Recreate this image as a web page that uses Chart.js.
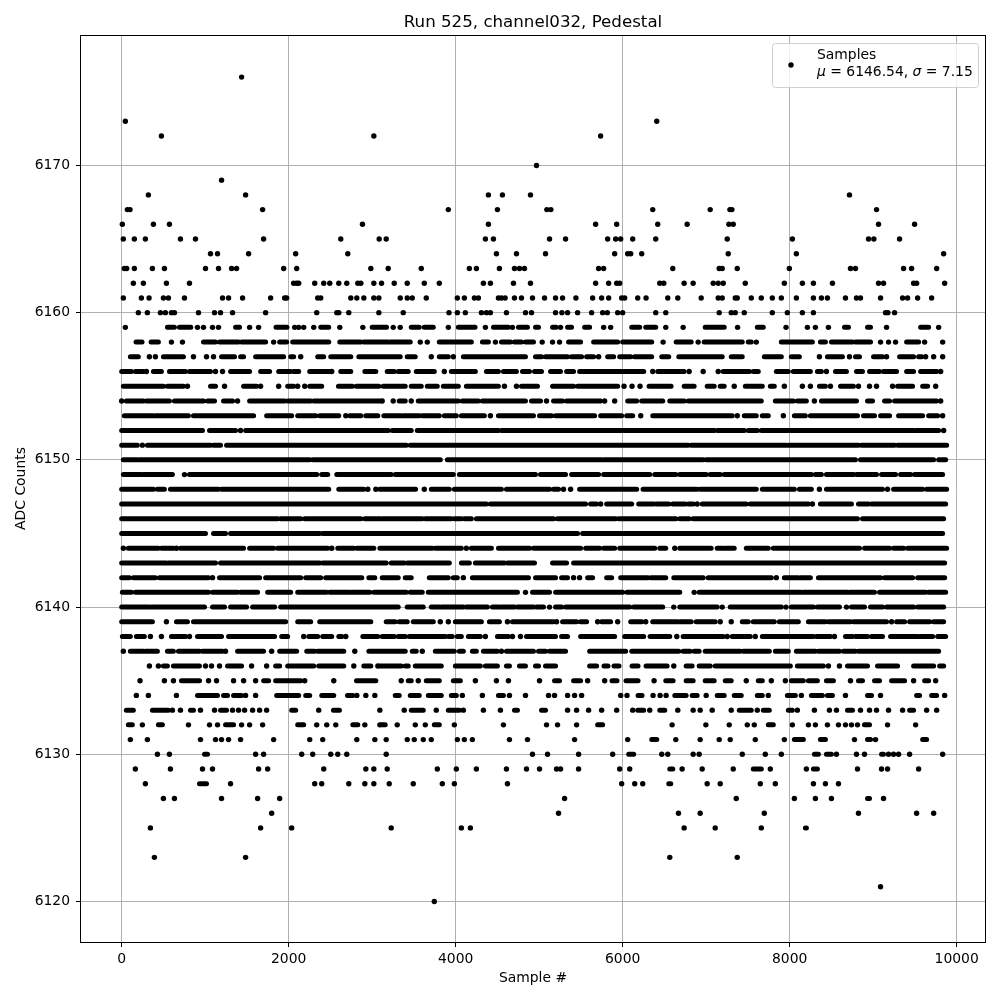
<!DOCTYPE html>
<html><head><meta charset="utf-8"><style>html,body{margin:0;padding:0;background:#fff}canvas{display:block}</style>
<script src="https://cdn.jsdelivr.net/npm/chart.js@4"></script></head><body>
<canvas id="c" width="1000" height="1000"></canvas>
<script>
// Each list: ADC level -> sample numbers. A number is one isolated dot,
// a [from,to] pair is a stretch of samples that merge into a solid band in the picture.
const a6176=[1436];
const a6173=[44,6408];
const a6172=[476,3020,5736];
const a6170=[4968];
const a6169=[1196];
const a6168=[320,1484,4392,4560,4896,8716];
const a6167=[68,100,1688,3912,4500,5092,5140,6360,7048,7284,7308,9040];
const a6166=[8,380,572,2884,4392,5676,5928,6420,6772,7272,7324,9064,9496];
const a6165=[20,152,284,704,884,1700,2624,3084,3168,4356,4452,5124,5316,5820,5916,5976,6120,6396,7252,8032,8944,9008,9316];
const a6164=[1064,1148,1520,2084,2708,4488,4728,5076,5904,6060,6096,6228,7264,8080,9844];
const a6163=[32,60,152,368,512,1004,1160,1316,1376,1940,2096,2984,3192,3588,4164,4248,4524,4704,4764,4824,5712,5772,6600,7156,7192,7372,7996,8728,8788,9364,9460,9760];
const a6162=[140,260,536,812,2060,2096,2120,2312,2420,2492,2600,2696,2828,2864,3020,3112,3264,3420,3624,3804,4332,4416,4692,4896,5676,5832,5928,5964,6444,6492,6736,6844,7084,7144,7204,7468,7936,8152,8284,8512,9064,9124,9484,9520,9856];
const a6161=[20,236,328,500,560,752,1208,1280,1448,1784,1952,1976,2348,2384,2744,2816,2900,3020,3080,3336,3420,3480,3648,4020,4104,4224,4272,4512,4548,4592,4704,4788,4920,5064,5196,5280,5440,5640,5748,5832,5988,6024,6180,6280,6540,6660,6940,7144,7192,7348,7372,7540,7660,7792,7900,8080,8284,8380,8452,8668,8800,8848,9088,9352,9412,9532,9700];
const a6160=[200,308,464,524,596,632,920,1112,1184,1328,1724,2336,2576,2600,2720,3080,3372,3920,4020,4116,4308,4368,4416,4608,4836,4908,5196,5272,5340,5460,5628,5760,5816,5940,6000,6396,6516,7156,7300,7348,7456,7792,7972,8152,8284,9148,9176,9256];
const a6159=[44,[548,632],[692,828],908,980,1088,1160,[1364,1412],1532,1640,[1848,1980],2072,2120,2180,2300,[2384,2480],2612,2888,[3000,3172],3252,3336,[3468,3564],[3624,3732],3912,[4032,4232],4356,[4452,4632],4680,[4752,4860],[4956,4992],[5160,5204],5256,[5340,5388],[5544,5604],5772,5856,[6108,6204],[6276,6396],6516,6724,[6988,7216],7376,[7612,7684],7956,8212,8308,8464,[8656,8704],[8932,8968],9160,[9568,9664],9784];
const a6158=[[172,244],[352,440],596,728,[980,1124],[1172,1400],[1436,1724],1820,[1892,1976],[2048,2480],[2612,2864],[2900,3192],[3216,3456],3576,3660,[3804,4188],[4320,4392],4476,[4548,4656],[4704,4788],[4836,4932],5036,5160,5244,[5352,5496],[5652,5940],[6000,6348],6484,[6640,6820],6904,[6976,7432],[7504,7540],7600,[7900,8272],[8368,8428],[8500,8752],[8788,8968],9088,9184,9268,[9400,9544],9616,9832];
const a6157=[[104,200],332,404,[500,740],860,1016,1100,[1196,1352],[1424,1460],[1604,1940],[2024,2060],2144,[2348,2420],[2504,2744],[2840,3336],[3420,3516],3708,[3804,3912],3972,[4092,4836],[4956,5028],[5076,5340],[5388,5508],[5568,5652],5712,[5820,5892],[5964,6096],[6144,6348],[6468,6552],[6672,7192],[7300,7432],[7696,7900],[8020,8116],8356,[8452,8632],8716,[8788,8836],[9004,9112],9160,[9316,9484],[9544,9580],9628,9724,9832];
const a6156=[[0,116],[164,260],296,[380,476],[572,764],[812,1064],1124,1208,[1304,1532],[1664,1772],[1880,2024],[2060,2120],[2252,2492],2516,[2624,2744],[2912,3044],[3180,3264],[3312,3432],[3528,3744],3864,[3948,4236],[4368,4512],[4572,4728],[4800,4884],[4944,5028],[5136,5256],[5328,5412],[5484,6252],6360,[6420,6736],6796,6964,7144,[7204,7516],[7564,7624],[7840,7984],[8044,8248],[8332,8380],8440,[8548,8680],[8800,8872],[8956,9076],[9124,9280],[9400,9484],[9568,9760],9808];
const a6155=[[20,500],[548,740],788,[1064,1124],1232,[1460,1616],1664,1880,[1988,2060],2108,2192,[2252,2396],[2596,2764],[2812,3080],[3132,3396],[3468,3588],[3660,3780],[3852,4032],[4128,4512],4584,4728,[4788,4980],[5160,5412],[5460,5940],6016,6112,6208,[6316,6580],[6736,6856],[7012,7096],[7168,7216],7336,[7468,7672],[7768,7816],7936,8152,8248,[8356,8428],8488,[8608,8764],8824,8956,9040,9232,[9292,9472],[9592,9652],9748];
const a6154=[0,[56,260],[296,572],[632,980],[1028,1112],[1220,1328],1388,[1532,1952],[1988,2264],[2300,3100],3120,3252,[3324,3396],3468,[3552,4032],[4080,4272],[4320,4836],[4908,5016],5088,[5172,5280],[5328,5736],5784,5904,[6060,6168],[6228,6480],[6564,6736],[6784,7660],[7828,8044],[8092,8200],8296,[8380,8800],[8932,8992],[9136,9196],[9256,9760],9808];
const a6153=[[32,380],[404,800],[860,1580],[1736,2036],[2108,2324],[2372,2600],2684,[2732,2864],[2924,3068],[3140,3348],[3372,3564],[3600,3804],[3864,4008],[4068,4344],4416,[4512,4932],[5004,5148],[5196,5664],[5736,5988],[6048,6120],6216,[6360,7312],7372,[7456,7600],[7672,7744],7924,[8056,8188],[8248,8812],[8884,9016],[9088,9196],[9304,9592],[9664,9772],9832];
const a6152=[[0,968],[1052,1364],1424,[1484,3192],[3240,3468],[3540,4512],[4548,7096],[7132,7456],[7504,7612],[7660,9484],[9508,9784],9844];
const a6151=[[0,188],248,[308,1064],[1100,1184],[1256,3408],[3456,6784],[6820,7960],[7984,8824],[8860,9256],[9292,9880]];
const a6150=[[20,188],[212,2252],[2288,3816],[3900,5748],[5772,6964],[7000,8788],[8848,9724],[9784,9868]];
const a6149=[[20,236],[260,608],752,[812,2336],[2396,2468],[2576,3228],[3276,3972],[4044,4956],[5016,5316],[5388,5712],[5772,6324],[6384,6636],[6684,7000],[7048,7168],[7216,8260],[8308,8380],[8440,8764],[8800,9040],[9100,9268],[9328,9448],[9496,9832]];
const a6148=[[0,380],[428,512],[584,1160],[1196,2480],[2600,2900],2948,3044,[3092,3520],3624,[3708,3924],[3984,4548],[4608,5124],[5172,5232],5292,5376,[5484,6168],[6244,6892],[6928,7600],[7672,8056],[8116,8260],8356,[8440,9112],9172,[9244,9592],[9640,9880]];
const a6147=[[0,4368],[4416,5556],[5616,5688],5736,[5808,6108],[6192,6372],[6400,6552],[6600,6748],[6784,6844],6892,[6952,7480],[7528,8224],8272,[8368,8740],[8824,8944],[8980,9868]];
const a6146=[[0,1868],[1904,2144],[2192,2864],[2912,3100],[3120,3600],[3636,3948],[3984,4068],[4104,4188],[4248,5172],[5220,5916],[5952,6636],[6684,6796],[6844,8812],[8872,9844]];
const a6145=[[0,1004],[1100,1244],[1304,2372],[2408,5460],[5520,9832]];
const a6144=[20,[80,440],[476,620],656,[704,1460],[1532,1820],[1868,2468],2516,[2588,2780],[2816,3020],[3092,3720],[3756,4068],4128,[4188,4428],[4512,4884],[4932,5496],[5556,5724],[5772,5904],[5964,6384],[6444,6516],6624,[6684,7060],[7132,7204],[7228,7336],[7480,7744],[7804,8836],[8896,9196],[9244,9364],[9412,9880]];
const a6143=[[0,536],[560,1124],[1184,2372],[2408,3168],[3228,3384],[3420,3924],[4068,4164],[4236,4584],[4620,4944],[5160,5328],[5412,9856]];
const a6142=[[0,92],[140,404],[452,1040],1088,[1172,1652],[1724,2144],[2204,2384],[2444,2876],[2960,3032],[3120,3312],[3396,3468],[3684,3912],[3972,4020],4092,[4200,4872],[4956,5196],[5268,5340],5412,5484,[5580,5640],[5808,5868],[5976,6304],[6340,6516],[6612,6964],[7024,7780],7840,[7936,8104],[8128,8248],[8344,9088],[9136,9472],[9532,9856]];
const a6141=[[8,116],[164,1040],[1088,1388],[1424,1628],[1748,2024],[2108,2456],[2492,2732],[2752,2972],[3020,3408],[3456,3600],[3672,4740],4836,[4920,5124],[5196,6000],[6052,6684],6856,[6916,8140],[8164,8692],[8716,9016],[9076,9628],[9664,9868]];
const a6140=[[0,332],[356,992],[1088,1232],[1304,1496],[1568,1832],[1904,3312],[3420,3612],[3708,3804],[3828,4092],[4128,4380],[4440,4524],[4548,4704],[4740,4932],[4968,5052],5124,[5196,5268],[5316,6084],[6132,6480],6612,[6684,7132],7192,[7288,7900],7956,[8020,8284],[8332,8596],8680,[8740,8896],[8968,9112],[9160,9484],[9532,9844]];
const a6139=[[0,368],536,[656,788],[860,1964],[2108,2264],[2372,2984],[3168,3276],[3324,3420],[3492,3732],3816,3912,[3996,4308],[4404,4524],4620,[4680,5172],5208,[5280,5448],[5496,5568],5700,[5748,5856],5940,[6096,6228],6276,[6360,6660],[6684,6820],[6880,7108],7168,7300,[7432,7504],[7564,7816],[7876,8104],[8224,8428],[8464,8728],[8764,9160],9220,[9280,9376],[9436,9676],[9724,9844]];
const a6138=[[8,104],[176,272],344,476,[596,764],812,[908,1196],[1280,1832],[1916,1988],2180,[2240,2348],[2408,2516],[2600,2636],2684,[2888,3068],[3120,3264],[3312,3396],[3444,3876],[3912,3960],[4020,4068],[4152,4296],4356,[4500,4632],4680,4776,[4848,5196],[5268,5340],[5496,5904],[6024,6252],[6328,6564],6648,[6724,7204],7252,[7312,7528],7588,[7672,8284],[8320,8488],8536,[8668,8752],[8788,8932],[8980,9112],[9208,9532],[9556,9712],[9772,9868]];
const a6137=[20,[104,260],[284,428],[548,620],[680,932],[968,1208],1244,[1388,1700],1796,[1892,2096],[2216,2312],[2348,2660],2792,[2960,3396],[3480,3528],3600,[3756,3984],[4044,4092],[4200,4248],[4332,4500],4548,[4608,4932],[4992,5076],[5124,5316],[5604,6036],[6108,6672],[6724,6808],[6856,6916],[6988,7408],[7444,7756],[7828,7984],[8080,8308],[8344,8596],[8644,8788],[8824,9784]];
const a6136=[332,440,[500,548],[620,932],1004,1076,1172,[1268,1436],1556,1736,[1844,1892],[1988,2300],[2360,2660],2780,[2900,2984],3068,[3092,3348],[3396,3432],[3516,3828],[3996,4296],[4356,4500],[4608,4644],[4764,4836],[4956,4992],[5076,5196],[5604,5688],[5776,5824],[5896,5956],[6112,6184],[6280,6532],6612,[6760,6832],[6916,7048],[7108,8008],[8092,8404],8464,8596,[8692,8932],[9052,9292],[9484,9724],[9796,9844]];
const a6135=[220,512,620,[716,932],1040,1136,1340,1460,1604,[1700,1760],[1844,2144],2192,2540,[2812,3044],3348,[3432,3468],3552,[3648,3804],[3972,4056],4236,4488,4632,5004,[5184,5244],[5412,5496],5580,5784,[5872,5932],[6040,6184],6376,[6516,6604],[6760,6844],[6988,7096],[7228,7300],7480,[7624,7672],7780,7948,[8020,8164],[8224,8332],[8440,8524],8728,[8824,8872],[9016,9076],[9220,9376],9484,[9616,9664],9748];
const a6134=[176,320,656,[908,1148],[1220,1268],[1340,1436],1484,1604,[1856,2120],[2204,2252],[2396,2540],[2704,2768],2816,2924,3032,[3276,3324],[3456,3564],[3672,3828],[3948,4008],4080,4320,[4512,4572],4644,4836,5112,5184,5340,5424,5508,5976,6052,[6184,6232],6364,6448,6520,[6624,6760],[6832,6892],7000,[7132,7216],[7336,7420],[7612,7672],7744,[7972,8068],8140,[8260,8392],[8452,8512],8668,[8932,8980],9088,[9520,9556],[9700,9760],9856];
const a6133=[[56,140],[368,560],608,704,[824,860],944,1112,[1184,1256],1328,1400,1472,1568,1652,1736,[2036,2084],2360,[2536,2608],3092,3384,[3468,3612],3768,[3912,4044],4092,4332,4536,[4704,4740],[5028,5076],5340,5448,5592,5748,5928,6120,[6180,6252],6324,[6444,6504],6660,6844,6928,7072,7300,[7396,7540],7612,[7684,7756],[7984,8032],8092,8296,8476,8560,[8692,8752],8848,8956,9040,9184,9352,[9436,9484],9640,9760];
const a6132=[[80,128],248,[440,488],800,1052,1148,[1244,1340],1436,1532,1688,[2108,2180],2336,2456,2564,[2768,2828],2912,3092,[3112,3156],3300,3516,3636,[3744,3804],3984,4572,5088,5220,5448,[5700,5760],6592,6996,7276,7492,7576,[7744,7804],8032,8224,8308,8452,8584,8668,8740,8812,[8896,8956],9172,9508];
const a6131=[104,308,944,1124,1196,1280,1424,1820,2252,2408,2816,3032,3168,3420,3504,3612,3708,4020,4104,4200,4644,4860,5424,6060,[6348,6408],6636,6928,7156,7288,7588,7936,[8056,8164],[8368,8428],8776,[8932,8968],9028,[9592,9640]];
const a6130=[428,572,[992,1028],1604,1700,2156,2288,2504,2588,2696,3168,4920,5100,5472,5880,[6072,6132],6468,6540,6844,6916,7432,7708,7900,[8296,8344],[8440,8500],8560,8800,8896,[9100,9124],9184,9244,9304,9436,9832];
const a6129=[164,584,968,1088,1640,1748,2420,2924,3020,3180,3780,4008,4248,4608,4848,5004,5208,5256,5472,5964,6084,[6564,6600],6712,6952,7324,[7564,7660],7768,8200,[8284,8332],8812,9100,9172,9544];
const a6128=[284,[932,1016],1304,2312,2396,2720,2912,3020,3204,3492,3840,3984,4620,5988,6144,6240,[6552,6576],7012,7168,7648,7828,8284,8428,8584];
const a6127=[500,632,1196,1628,1892,5304,7360,8056,8308,8500,[8932,8956],9124];
const a6126=[1796,5232,6668,6928,7696,8824,9520,9724];
const a6125=[344,1664,2036,3228,4068,4176,6736,7108,7660,[8188,8200]];
const a6123=[392,1484,6564,7372];
const a6121=[9088];
const a6120=[3744];

const levels=[6120,6121,6123,6125,6126,6127,6128,6129,6130,6131,6132,6133,6134,6135,6136,6137,6138,6139,6140,6141,6142,6143,6144,6145,6146,6147,6148,6149,6150,6151,6152,6153,6154,6155,6156,6157,6158,6159,6160,6161,6162,6163,6164,6165,6166,6167,6168,6169,6170,6172,6173,6176];
const samplesByLevel=[a6120,a6121,a6123,a6125,a6126,a6127,a6128,a6129,a6130,a6131,a6132,a6133,a6134,a6135,a6136,a6137,a6138,a6139,a6140,a6141,a6142,a6143,a6144,a6145,a6146,a6147,a6148,a6149,a6150,a6151,a6152,a6153,a6154,a6155,a6156,a6157,a6158,a6159,a6160,a6161,a6162,a6163,a6164,a6165,a6166,a6167,a6168,a6169,a6170,a6172,a6173,a6176];
const xTicks=[0,2000,4000,6000,8000,10000];
const yTicks=[6120,6130,6140,6150,6160,6170];
const chartTitle="Run 525, channel032, Pedestal";
const xTitle="Sample #";
const yTitle="ADC Counts";
const legendName="Samples";
const legendStats=[["μ",1],[" = 6146.54, ",0],["σ",1],[" = 7.15",0]];

const dots=[],bands=[];
levels.forEach((lv,i)=>samplesByLevel[i].forEach(s=>{
  if(Array.isArray(s)){bands.push({x:s[0],y:lv},{x:s[1],y:lv},{x:s[1],y:null});}
  else dots.push({x:s,y:lv});
}));
const FONT='"DejaVu Sans"';
const frameAndLegend={id:'frameAndLegend',afterDraw(c){
  const g=c.ctx,a=c.chartArea;
  g.save();
  g.strokeStyle='#000';g.lineWidth=1;
  g.strokeRect(a.left-.5,a.top+.5,a.right-a.left+1,a.bottom-a.top);
  const bx=772,by=43,bw=206,bh=44;
  g.beginPath();g.roundRect(bx+.5,by+.5,bw,bh,3);
  g.fillStyle='rgba(255,255,255,0.8)';g.fill();
  g.strokeStyle='#d0d0d0';g.stroke();
  g.fillStyle='#000';
  g.beginPath();g.arc(791,65,2.7,0,7);g.fill();
  g.textBaseline='alphabetic';g.textAlign='left';
  g.font='13.9px '+FONT;
  g.fillText(legendName,817,59);
  let x=817;
  legendStats.forEach(([t,it])=>{
    g.font=(it?'italic ':'')+'13.9px '+FONT;
    g.fillText(t,x,76);x+=g.measureText(t).width;
  });
  g.restore();
}};
new Chart(document.getElementById('c'),{
  type:'scatter',
  data:{datasets:[
    {label:legendName,data:dots,pointRadius:2.7,pointHoverRadius:2.7,pointBackgroundColor:'#000',pointBorderWidth:0,showLine:false},
    {label:legendName+' (merged)',data:bands,showLine:true,borderColor:'#000',borderWidth:5,borderCapStyle:'round',pointRadius:0,spanGaps:false,tension:0}
  ]},
  options:{
    responsive:false,animation:false,
    layout:{padding:{left:0,right:15,top:0,bottom:0}},
    plugins:{
      legend:{display:false},tooltip:{enabled:false},
      title:{display:true,text:chartTitle,color:'#000',fullSize:false,font:{family:FONT,size:16.67,weight:'normal',lineHeight:1.2},padding:{top:13,bottom:2}}
    },
    scales:{
      x:{type:'linear',min:-487,max:10339,
        afterBuildTicks(s){s.ticks=xTicks.map(v=>({value:v}));},
        afterFit(s){s.height=58;},
        title:{display:true,text:xTitle,color:'#000',font:{family:FONT,size:13.9},padding:{top:13,bottom:13}},
        ticks:{color:'#000',font:{family:FONT,size:13.9},maxRotation:0,padding:4,autoSkip:false,callback:v=>String(v)},
        grid:{color:'#b0b0b0',lineWidth:1,tickColor:'#000',tickLength:5},border:{display:false}},
      y:{type:'linear',min:6117.25,max:6178.86,
        afterBuildTicks(s){s.ticks=yTicks.map(v=>({value:v}));},
        afterFit(s){s.width=81;},
        title:{display:true,text:yTitle,color:'#000',font:{family:FONT,size:13.9},padding:{top:13,bottom:13}},
        ticks:{color:'#000',font:{family:FONT,size:13.9},padding:6,autoSkip:false,callback:v=>String(v)},
        grid:{color:'#b0b0b0',lineWidth:1,tickColor:'#000',tickLength:5},border:{display:false}}
    }
  },
  plugins:[frameAndLegend]
});
</script></body></html>
